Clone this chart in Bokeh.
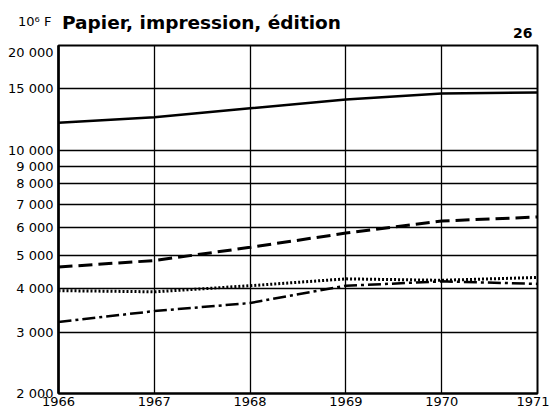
from bokeh.plotting import figure
from bokeh.layouts import column
from bokeh.models import FixedTicker, ColumnDataSource, Div
from bokeh.embed import file_html
from bokeh.resources import INLINE

years = [1966, 1967, 1968, 1969, 1970, 1971]
serie_solid = [12000, 12450, 13200, 14000, 14550, 14650]
serie_dash = [4620, 4820, 5260, 5780, 6260, 6430]
serie_dot = [3950, 3920, 4080, 4270, 4230, 4310]
serie_dashdot = [3210, 3450, 3640, 4080, 4200, 4130]

y_ticks = [2000, 3000, 4000, 5000, 6000, 7000, 8000, 9000, 10000, 15000, 20000]
y_tick_labels = ["2 000", "3 000", "4 000", "5 000", "6 000", "7 000", "8 000",
                 "9 000", "10 000", "15 000", "20 000"]
x_ticks = years
title_text = "Papier, impression, édition"
unit_text = "10⁶ F"
page_text = "26"

FONT = "DejaVu Sans"

# ---- header (title line) as real HTML text ----
header_html = (
    f'<div style="position:relative;width:549px;height:44px;font-family:\'{FONT}\';color:black;">'
    f'<span style="position:absolute;left:18px;top:13px;font-size:13px;white-space:nowrap;">{unit_text}</span>'
    f'<span style="position:absolute;left:62px;top:10px;font-size:18.5px;font-weight:bold;white-space:nowrap;">{title_text}</span>'
    f'<span style="position:absolute;left:513px;top:23px;font-size:14px;font-weight:bold;white-space:nowrap;">{page_text}</span>'
    '</div>'
)
h = Div(text=header_html, width=549, height=44, margin=0)

# ---- main chart ----
p = figure(width=549, height=367, y_axis_type="log",
           x_range=(1966, 1971), y_range=(2000, 20000),
           output_backend="svg", toolbar_location=None,
           min_border_left=58, min_border_right=12, min_border_top=1,
           min_border_bottom=18)

p.background_fill_color = "white"
p.border_fill_color = "white"
p.outline_line_color = "black"
p.outline_line_width = 2

p.xaxis.ticker = FixedTicker(ticks=x_ticks)
p.yaxis.ticker = FixedTicker(ticks=y_ticks)
p.yaxis.major_label_overrides = {t: l for t, l in zip(y_ticks, y_tick_labels)}
p.xaxis.major_label_overrides = {t: str(t) for t in x_ticks}
p.yaxis.minor_tick_line_color = None
p.xaxis.minor_tick_line_color = None
for ax in (p.xaxis, p.yaxis):
    ax.major_tick_in = 0
    ax.major_tick_out = 0
    ax.major_label_text_font = FONT
    ax.major_label_text_color = "black"
    ax.axis_line_color = "black"
p.yaxis.major_label_text_font_size = "13px"
p.xaxis.major_label_text_font_size = "13px"
p.yaxis.axis_line_width = 2.5
p.xaxis.axis_line_width = 2
p.yaxis.major_label_standoff = 5
p.xaxis.major_label_standoff = 3

p.xgrid.grid_line_color = "black"
p.ygrid.grid_line_color = "black"
p.xgrid.grid_line_width = 1.3
p.ygrid.grid_line_width = 1.3
p.ygrid.minor_grid_line_color = None

src = ColumnDataSource(dict(x=years, a=serie_solid, b=serie_dash, c=serie_dot, d=serie_dashdot))
p.line("x", "a", source=src, line_color="black", line_width=2.5)
p.line("x", "b", source=src, line_color="black", line_width=3, line_dash="14 6")
p.line("x", "c", source=src, line_color="black", line_width=3, line_dash="2 2")
p.line("x", "d", source=src, line_color="black", line_width=2.5, line_dash="13 4 3 4")

layout = column(h, p, spacing=0)
open("out.html", "w").write(file_html(layout, INLINE))
